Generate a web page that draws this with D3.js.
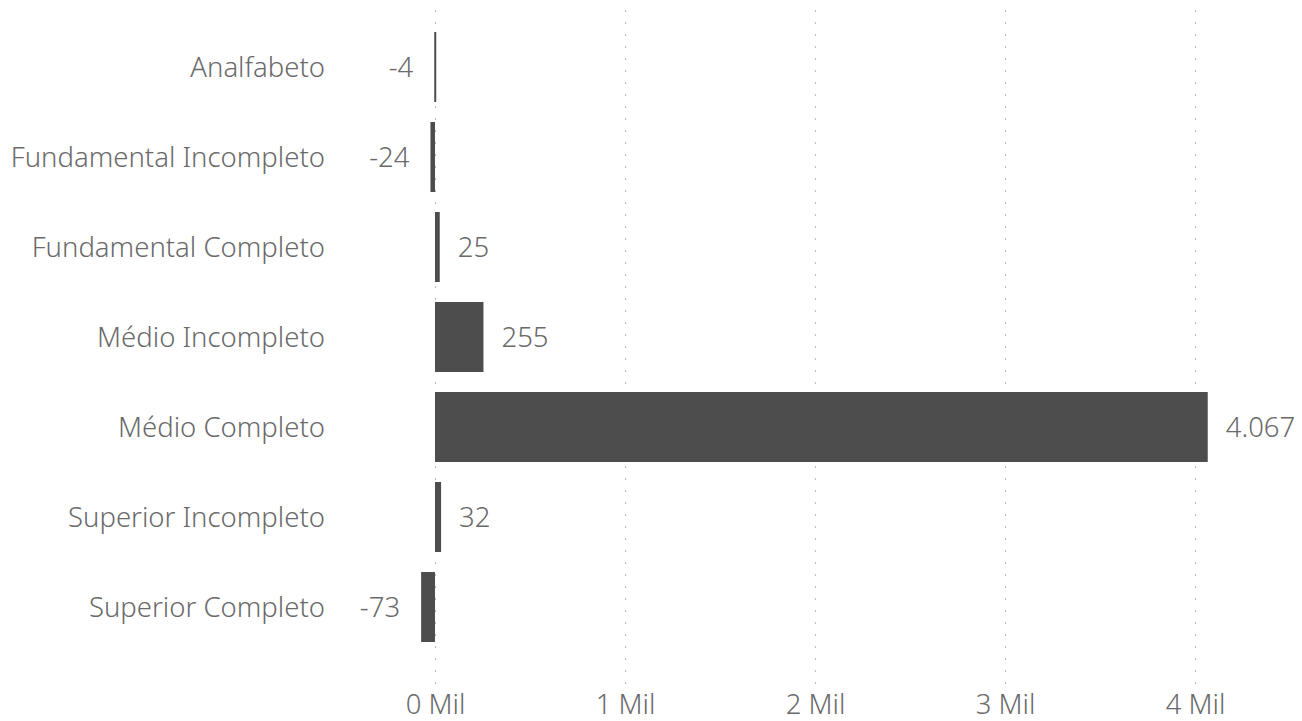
<!DOCTYPE html>
<html>
<head>
<meta charset="utf-8">
<script src="https://cdn.jsdelivr.net/npm/d3@7"></script>
<style>
  body { margin: 0; background: #fff; }
  text { font-family: "Noto Sans", "Open Sans", sans-serif; font-weight: 300; fill: #6a6a6a; }
</style>
</head>
<body>
<div id="chart"></div>
<script>
// data
var categories = ["Analfabeto", "Fundamental Incompleto", "Fundamental Completo",
  "Médio Incompleto", "Médio Completo", "Superior Incompleto", "Superior Completo"];
var values = [-4, -24, 25, 255, 4067, 32, -73];
var tickValues = [0, 1000, 2000, 3000, 4000];

var svgWidth = 1302;
var svgHeight = 721;
var fontSize = "27.5px";

var svg = d3.select("#chart")
  .append("svg")
  .attr("width", svgWidth)
  .attr("height", svgHeight);

var rows = categories.map(function(c, i) { return { cat: c, value: values[i] }; });

// scales
var xScale = d3.scaleLinear().domain([0, 4000]).range([435, 1195]);
var yScale = d3.scaleBand()
  .domain(categories)
  .range([22, 652])
  .paddingInner(2 / 9)
  .paddingOuter(1 / 9);

var fmt = d3.formatLocale({ decimal: ",", thousands: ".", grouping: [3], currency: ["R$", ""] }).format(",d");

// gridlines
svg.append("g")
  .selectAll("line")
  .data(tickValues)
  .enter()
  .append("line")
  .attr("x1", d => Math.round(xScale(d)) + 0.5)
  .attr("x2", d => Math.round(xScale(d)) + 0.5)
  .attr("y1", 10)
  .attr("y2", 684)
  .attr("stroke", "#bdbdbd")
  .attr("stroke-width", 1.2)
  .attr("stroke-dasharray", "2,10");

// x axis
var xAxis = d3.axisBottom(xScale)
  .tickValues(tickValues)
  .tickSize(0)
  .tickPadding(0)
  .tickFormat(d => (d / 1000) + " Mil");

var xg = svg.append("g")
  .attr("transform", "translate(0, 704)")
  .call(xAxis);
xg.select(".domain").remove();
xg.selectAll("text")
  .attr("y", 0)
  .attr("dy", "0.35em")
  .style("font-size", fontSize)
  .style("font-family", "\"Noto Sans\", sans-serif")
  .attr("fill", "#6a6a6a");

// y axis labels
svg.append("g")
  .selectAll("text")
  .data(rows)
  .enter()
  .append("text")
  .attr("x", 325)
  .attr("y", d => yScale(d.cat) + yScale.bandwidth() / 2)
  .attr("dy", "0.35em")
  .attr("text-anchor", "end")
  .style("font-size", fontSize)
  .text(d => d.cat);

// bars
svg.append("g")
  .selectAll("rect")
  .data(rows)
  .enter()
  .append("rect")
  .attr("x", d => xScale(Math.min(0, d.value)))
  .attr("y", d => yScale(d.cat))
  .attr("width", d => Math.max(2, Math.abs(xScale(d.value) - xScale(0))))
  .attr("height", yScale.bandwidth())
  .attr("fill", "#4d4d4d");

// value labels
svg.append("g")
  .selectAll("text")
  .data(rows)
  .enter()
  .append("text")
  .attr("x", d => d.value >= 0 ? xScale(d.value) + 18 : xScale(d.value) - 21)
  .attr("y", d => yScale(d.cat) + yScale.bandwidth() / 2)
  .attr("dy", "0.35em")
  .attr("text-anchor", d => d.value >= 0 ? "start" : "end")
  .style("font-size", fontSize)
  .text(d => fmt(d.value).replace("−", "-"));
</script>
</body>
</html>
